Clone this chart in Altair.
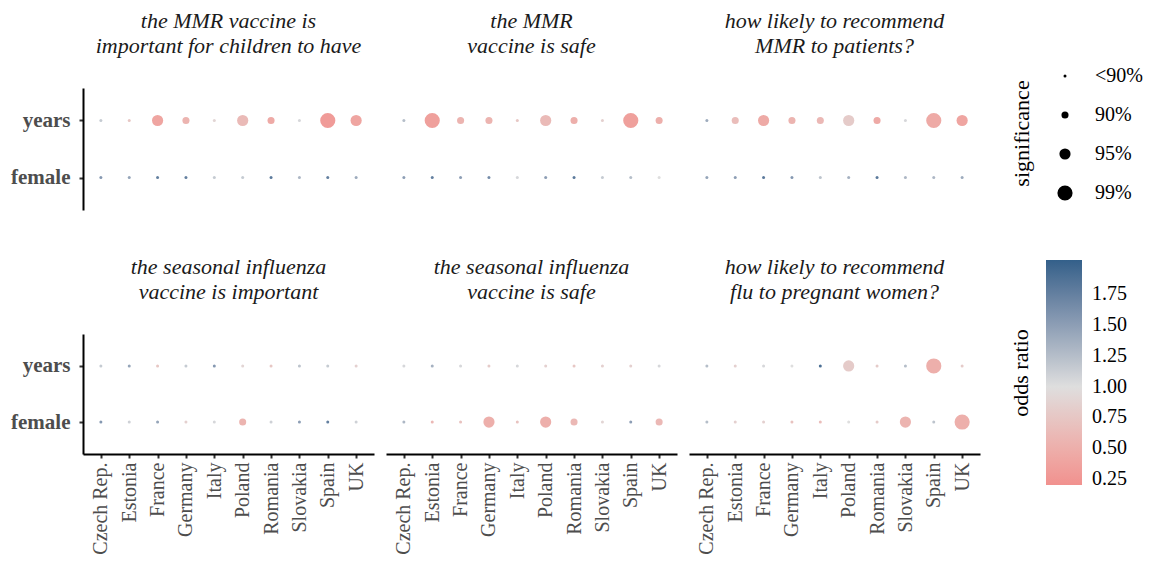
import altair as alt
import pandas as pd

countries = ["Czech Rep.", "Estonia", "France", "Germany", "Italy",
             "Poland", "Romania", "Slovakia", "Spain", "UK"]
questions = ["mmr_important", "mmr_safe", "mmr_recommend",
             "flu_important", "flu_safe", "flu_recommend"]
titles = [
    ["the MMR vaccine is", "important for children to have"],
    ["the MMR", "vaccine is safe"],
    ["how likely to recommend", "MMR to patients?"],
    ["the seasonal influenza", "vaccine is important"],
    ["the seasonal influenza", "vaccine is safe"],
    ["how likely to recommend", "flu to pregnant women?"],
]
sig_labels = ["<90%", "90%", "95%", "99%"]
sig_levels = [0, 1, 2, 3]
groups = ["years", "female"]
odds_ticks = [0.25, 0.5, 0.75, 1.0, 1.25, 1.5, 1.75]

or_years = [
    [1.15, 0.75, 0.40, 0.55, 0.90, 0.62, 0.45, 1.05, 0.30, 0.40],
    [1.25, 0.35, 0.55, 0.55, 0.75, 0.62, 0.50, 0.85, 0.35, 0.50],
    [1.40, 0.65, 0.45, 0.55, 0.60, 0.80, 0.45, 1.05, 0.45, 0.40],
    [1.15, 1.45, 0.75, 1.15, 1.55, 0.90, 0.75, 1.20, 1.15, 0.85],
    [1.05, 1.35, 1.05, 0.80, 1.05, 0.85, 0.75, 0.85, 0.85, 1.05],
    [1.25, 0.85, 1.05, 1.00, 1.90, 0.80, 0.80, 1.25, 0.50, 0.80],
]
sig_years = [
    [0, 0, 2, 1, 0, 2, 1, 0, 3, 2],
    [0, 3, 1, 1, 0, 2, 1, 0, 3, 1],
    [0, 1, 2, 1, 1, 2, 1, 0, 3, 2],
    [0, 0, 0, 0, 0, 0, 0, 0, 0, 0],
    [0, 0, 0, 0, 0, 0, 0, 0, 0, 0],
    [0, 0, 0, 0, 0, 2, 0, 0, 3, 0],
]
or_female = [
    [1.55, 1.45, 1.75, 1.75, 1.15, 1.15, 1.80, 1.30, 1.75, 1.40],
    [1.50, 1.75, 1.50, 1.65, 1.05, 1.50, 1.80, 1.15, 1.25, 1.00],
    [1.45, 1.50, 1.80, 1.55, 1.20, 1.35, 1.80, 1.30, 1.30, 1.40],
    [1.55, 1.10, 1.45, 0.85, 1.05, 0.55, 1.10, 1.50, 1.75, 1.10],
    [1.30, 0.60, 0.70, 0.50, 0.70, 0.50, 0.60, 0.90, 1.50, 0.60],
    [1.25, 0.85, 0.85, 0.70, 0.65, 1.00, 0.80, 0.55, 1.20, 0.50],
]
sig_female = [
    [0, 0, 0, 0, 0, 0, 0, 0, 0, 0],
    [0, 0, 0, 0, 0, 0, 0, 0, 0, 0],
    [0, 0, 0, 0, 0, 0, 0, 0, 0, 0],
    [0, 0, 0, 0, 0, 1, 0, 0, 0, 0],
    [0, 0, 0, 2, 0, 2, 1, 0, 0, 1],
    [0, 0, 0, 0, 0, 0, 0, 2, 0, 3],
]

rows = []
for qi, q in enumerate(questions):
    for ci, c in enumerate(countries):
        rows.append(dict(q=q, group="years", country=c,
                         odds=or_years[qi][ci], level=sig_years[qi][ci]))
        rows.append(dict(q=q, group="female", country=c,
                         odds=or_female[qi][ci], level=sig_female[qi][ci]))
df = pd.DataFrame(rows)
legend_df = pd.DataFrame({"label": sig_labels, "level": sig_levels})

FONT = "Liberation Serif"
W = 291

color_scale = alt.Scale(domain=[0.2, 1.0, 2.03],
                        range=["#F1918E", "#DEDEDE", "#33608A"],
                        interpolate="lab")
size_scale = alt.Scale(type="threshold", domain=[0.5, 1.5, 2.5],
                       range=[9, 50, 125, 230])


def panel(qi):
    show_y = qi % 3 == 0
    show_x = qi >= 3
    axis_common = dict(domainColor="black", domainWidth=2, tickColor="#333333",
                       tickSize=4, tickWidth=2, labelColor="#4D4D4D",
                       labelFont=FONT, grid=False, title=None)
    x_axis = alt.Axis(labelAngle=270, labelFontSize=20, labelPadding=4,
                      **axis_common) if show_x else None
    y_axis = alt.Axis(labelFontSize=21, labelFontWeight="bold", labelPadding=9,
                      **axis_common) if show_y else None
    return (
        alt.Chart(df)
        .transform_filter(alt.datum.q == questions[qi])
        .mark_circle(opacity=1)
        .encode(
            x=alt.X("country:N", sort=countries, axis=x_axis,
                    scale=alt.Scale(type="point", padding=0.63)),
            y=alt.Y("group:N", sort=groups, axis=y_axis,
                    scale=alt.Scale(type="point", padding=0.57)),
            color=alt.Color("odds:Q", scale=color_scale,
                            legend=alt.Legend(
                                title="odds ratio", orient="none",
                                legendX=927, legendY=172,
                                values=odds_ticks, format=".2f",
                                gradientLength=225, gradientThickness=36,
                                titleOrient="left", titleAnchor="middle",
                                titlePadding=12, titleFont=FONT,
                                titleFontSize=22, titleFontWeight="normal",
                                titleColor="black", labelFont=FONT,
                                labelFontSize=20, labelColor="black",
                                labelOffset=10, gradientStrokeWidth=0)),
            size=alt.Size("level:Q", scale=size_scale, legend=None),
        )
        .properties(width=W, height=122 if qi < 3 else 120,
                    title=alt.Title(titles[qi], font=FONT, fontSize=22,
                                    fontStyle="italic", fontWeight="normal",
                                    color="#1A1A1A", anchor="middle",
                                    offset=30, lineHeight=25))
    )


grid = alt.concat(*[panel(i) for i in range(6)], columns=3,
                  spacing={"row": 46, "column": 12})

leg_y = alt.Y("label:N", sort=sig_labels,
              scale=alt.Scale(type="point", padding=0, range=[-12, 105]),
              axis=alt.Axis(title="significance", labels=False, ticks=False,
                            domain=False, grid=False, titleFont=FONT,
                            titleFontSize=22, titleFontWeight="normal",
                            titleColor="black", titlePadding=10, titleY=45))
leg_base = alt.Chart(legend_df)
leg_points = leg_base.mark_circle(color="black", opacity=1).encode(
    y=leg_y, x=alt.value(22),
    size=alt.Size("level:Q", scale=size_scale, legend=None))
leg_text = leg_base.mark_text(align="left", baseline="middle", font=FONT,
                              fontSize=20, color="black").encode(
    y=leg_y, x=alt.value(52), text="label:N")
size_legend = alt.layer(leg_points, leg_text).properties(width=95, height=120)

chart = (
    alt.hconcat(grid, size_legend, spacing=30)
    .resolve_scale(color="shared", size="shared")
    .configure_view(stroke=None)
    .properties(padding={"left": 2, "top": 2, "right": 0, "bottom": 0})
)

chart.save("out.html", embed_options={"renderer": "svg", "actions": False})
